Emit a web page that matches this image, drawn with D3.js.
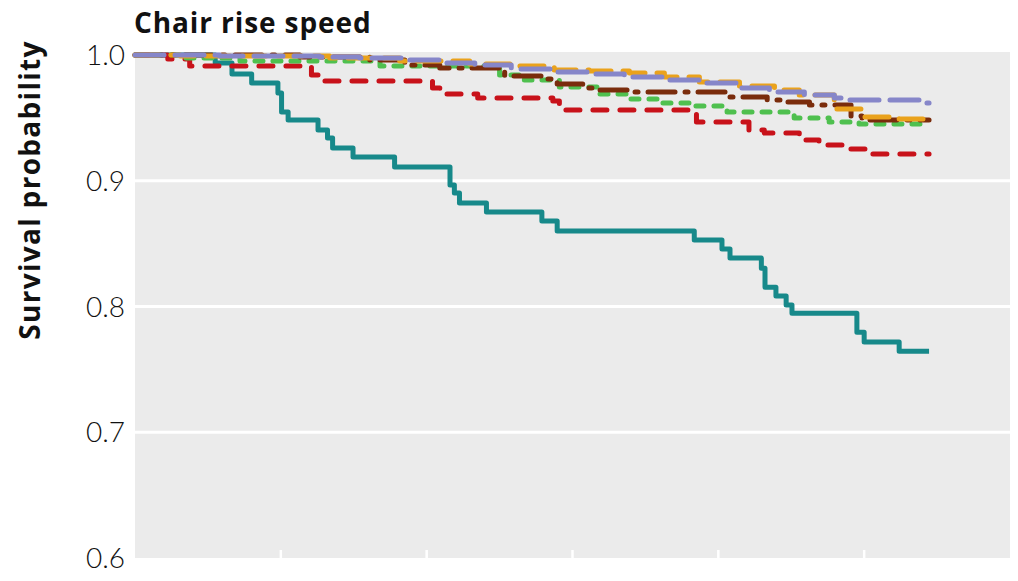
<!DOCTYPE html>
<html>
<head>
<meta charset="utf-8">
<script src="https://cdn.jsdelivr.net/npm/d3@7"></script>
<style>
  body { margin: 0; background: #fff; }
  svg { display: block; }
  text { font-family: Lato, "Open Sans", sans-serif; }
  .title { font-family: "Open Sans", Lato, sans-serif; }
</style>
</head>
<body>
<svg id="chart" width="1018" height="581"></svg>
<script>
// survival curves, [years, survival probability] at each drop
var teal = [[0,1],[1.10,0.9936],[1.33,0.9849],[1.60,0.9777],[1.96,0.9698],[2.01,0.9547],[2.10,0.9483],
  [2.51,0.9403],[2.64,0.9340],[2.71,0.9260],[2.99,0.9189],[3.56,0.9109],[4.32,0.8966],[4.38,0.8902],
  [4.45,0.8823],[4.82,0.8751],[5.58,0.8679],[5.79,0.8600],[7.67,0.8528],[8.05,0.8457],[8.16,0.8385],
  [8.59,0.8305],[8.64,0.8154],[8.79,0.8083],[8.93,0.8011],[9.01,0.7947],[9.90,0.7796],[10.00,0.7717],
  [10.48,0.7645],[10.89,0.7645]];
var red = [[0,1],[0.45,0.9968],[0.75,0.9912],[2.42,0.9841],[2.60,0.9793],[4.08,0.9737],[4.18,0.9690],
  [4.70,0.9658],[5.73,0.9634],[5.82,0.9562],[7.70,0.9467],[8.42,0.9403],[8.63,0.9379],[9.11,0.9324],
  [9.38,0.9284],[9.73,0.9252],[10.07,0.9212],[10.89,0.9212]];
var green = [[0,1],[0.62,0.9976],[1.44,0.9952],[3.36,0.9912],[5.00,0.9841],[5.34,0.9801],[5.82,0.9745],
  [6.37,0.9690],[6.75,0.9650],[7.19,0.9618],[7.64,0.9594],[8.12,0.9547],[9.04,0.9499],[9.52,0.9467],
  [9.93,0.9451],[10.89,0.9451]];
var brown = [[0,1],[2.26,0.9984],[3.22,0.9960],[3.70,0.9920],[4.18,0.9897],[5.07,0.9833],[5.59,0.9809],
  [5.79,0.9769],[6.14,0.9737],[6.37,0.9722],[6.78,0.9706],[8.15,0.9666],[8.67,0.9642],[8.90,0.9626],
  [9.25,0.9602],[9.82,0.9515],[9.97,0.9483],[10.89,0.9483]];
var orange = [[0,1],[0.62,0.9992],[2.67,0.9976],[3.63,0.9952],[4.59,0.9928],[5.21,0.9912],[5.75,0.9881],
  [6.23,0.9873],[6.78,0.9857],[7.26,0.9825],[7.74,0.9785],[8.29,0.9753],[8.77,0.9722],[9.11,0.9682],
  [9.59,0.9570],[10.00,0.9507],[10.48,0.9491],[10.89,0.9491]];
var purple = [[0,1],[1.16,0.9992],[2.53,0.9984],[3.08,0.9976],[3.70,0.9960],[4.18,0.9936],[4.66,0.9920],
  [5.16,0.9889],[5.75,0.9865],[6.26,0.9849],[6.71,0.9825],[7.26,0.9801],[7.74,0.9777],[8.26,0.9737],
  [8.70,0.9706],[9.18,0.9682],[9.59,0.9658],[9.79,0.9642],[10.86,0.9618],[10.89,0.9618]];

var yTicks = [0.6, 0.7, 0.8, 0.9, 1.0];
var xTicks = [2, 4, 6, 8, 10];

var svg = d3.select("#chart");
var plotLeft = 135, plotRight = 1010, plotTop = 55, plotBottom = 558;

var x = d3.scaleLinear().domain([0, 12]).range([plotLeft, plotRight]);
var y = d3.scaleLinear().domain([0.6, 1.0]).range([plotBottom, plotTop]);

// panel
svg.append("rect")
  .attr("x", plotLeft).attr("y", plotTop - 3)
  .attr("width", plotRight - plotLeft).attr("height", plotBottom - plotTop + 3)
  .attr("fill", "#ebebeb");

svg.append("g").selectAll("line")
  .data(yTicks.filter(function(d) { return d > 0.6 && d < 1.0; }))
  .enter().append("line")
  .attr("x1", plotLeft).attr("x2", plotRight)
  .attr("y1", function(d) { return y(d); })
  .attr("y2", function(d) { return y(d); })
  .attr("stroke", "#fff").attr("stroke-width", 3);

svg.append("g").selectAll("line")
  .data(xTicks)
  .enter().append("line")
  .attr("x1", function(d) { return x(d); })
  .attr("x2", function(d) { return x(d); })
  .attr("y1", plotBottom).attr("y2", plotBottom - 8)
  .attr("stroke", "#fff").attr("stroke-width", 2.5);

// y tick labels
svg.append("g").selectAll("text")
  .data(yTicks)
  .enter().append("text")
  .attr("x", 125)
  .attr("y", function(d) { return y(d); })
  .attr("dy", "0.36em")
  .attr("text-anchor", "end")
  .attr("font-size", 28)
  .attr("font-weight", 300)
  .attr("fill", "#111")
  .text(function(d) { return d3.format(".1f")(d); });

svg.append("text")
  .attr("class", "title")
  .attr("x", 134).attr("y", 33)
  .attr("font-size", 28).attr("font-weight", 700)
  .attr("letter-spacing", 0.9)
  .attr("fill", "#111")
  .text("Chair rise speed");

svg.append("text")
  .attr("class", "title")
  .attr("transform", "translate(40,190) rotate(-90)")
  .attr("text-anchor", "middle")
  .attr("font-size", 28).attr("font-weight", 700)
  .attr("letter-spacing", 1.3)
  .attr("fill", "#111")
  .text("Survival probability");

var line = d3.line()
  .x(function(d) { return x(d[0]); })
  .y(function(d) { return y(d[1]); })
  .curve(d3.curveStepAfter);

var series = [
  { data: teal, color: "#17898a", dash: null },
  { data: red, color: "#c8121a", dash: "14,13" },
  { data: green, color: "#4fc04f", dash: "8,10" },
  { data: brown, color: "#7a2c0c", dash: "27,10,3,10" },
  { data: orange, color: "#eaa21c", dash: "24,12" },
  { data: purple, color: "#8686c9", dash: "29,11" }
];

svg.append("g").selectAll("path")
  .data(series)
  .enter().append("path")
  .attr("d", function(d) { return line(d.data); })
  .attr("fill", "none")
  .attr("stroke", function(d) { return d.color; })
  .attr("stroke-width", 5)
  .attr("stroke-linecap", function(d) { return d.dash ? "round" : "butt"; })
  .attr("stroke-linejoin", "round")
  .attr("stroke-dasharray", function(d) { return d.dash; });
</script>
</body>
</html>
